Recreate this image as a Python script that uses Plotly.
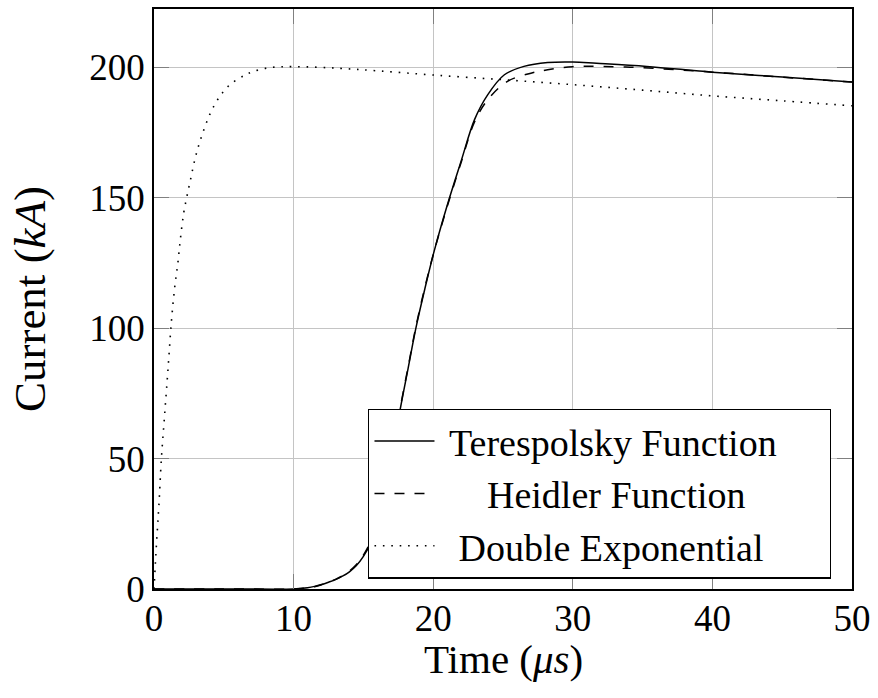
import plotly.graph_objects as go

# ---- data ----
teres_t = [0, 5, 10, 10.5, 11, 11.5, 12, 12.5, 13, 13.5, 14, 14.5, 15, 15.5, 16, 16.5, 17, 17.55,
           18.2, 18.76, 19.4, 20.07, 21, 22, 22.96, 23.9, 25.1, 26.5, 28.2, 30, 31.7, 35.3, 40, 45, 50]
teres_i = [0, 0, 0, 0.2, 0.5, 1.0, 1.7, 2.6, 3.6, 4.9, 6.6, 9.0, 12.5, 17.5, 25, 36, 50, 66.5,
           84.5, 100, 115, 129.5, 147, 164, 179.9, 189.4, 197.1, 200.3, 201.8, 202, 201.5, 200.3, 198.1, 196.2, 194.3]

heid_t = [0, 5, 10, 10.5, 11, 11.5, 12, 12.5, 13, 13.5, 14, 14.5, 15, 15.5, 16, 16.5, 17, 17.55,
          18.2, 18.76, 19.4, 20.07, 21, 22, 22.96, 23.9, 25.3, 27, 28.2, 30, 34.1, 40, 45, 50]
heid_i = [0, 0, 0, 0.2, 0.4, 0.9, 1.6, 2.6, 3.7, 5.1, 6.9, 9.4, 13, 18, 25.5, 36.5, 50.5, 67,
          85, 100.5, 115.5, 129.5, 146.5, 163.5, 179, 187.5, 194.5, 197.7, 199, 200.2, 200, 198.1, 196.2, 194.3]

dexp_t = [0, 0.1, 0.21, 0.35, 0.53, 0.75, 1.0, 1.24, 1.47, 1.71, 1.9, 2.14, 2.38, 2.64, 2.9,
          3.2, 3.59, 4.04, 4.66, 5.44, 6.46, 7.05, 8.24, 10, 13.2, 16, 20, 25, 30, 35, 40, 45, 50]
dexp_i = [0, 10, 20, 32, 50, 66, 84, 102, 115, 125, 134.6, 144.5, 151, 157.5, 164,
          170, 176.3, 182.4, 188.4, 193.3, 196.8, 198.2, 199.8, 200.2, 199.6, 198.6, 197.0, 195.2, 193.3, 191.2, 189.0, 187.1, 185.2]

NB = "\u00a0"
series_names = [NB + "Terespolsky Function" + NB * 5,
                NB * 5 + "Heidler Function",
                NB * 2 + "Double Exponential"]
x_ticks = [0, 10, 20, 30, 40, 50]
y_ticks = [0, 50, 100, 150, 200]
x_title = "Time (<i>μs</i>)"
y_title = "Current (<i>kA</i>)"

FONT = "Liberation Serif"

fig = go.Figure()
fig.add_trace(go.Scatter(x=teres_t, y=teres_i, mode="lines", name=series_names[0],
                         line=dict(color="black", width=1.5, shape="spline", smoothing=1)))
fig.add_trace(go.Scatter(x=heid_t, y=heid_i, mode="lines", name=series_names[1],
                         line=dict(color="black", width=1.5, dash="10px,10px", shape="spline", smoothing=1)))
fig.add_trace(go.Scatter(x=dexp_t, y=dexp_i, mode="lines", name=series_names[2],
                         line=dict(color="black", width=1.6, dash="1.6px,6.8px", shape="spline", smoothing=1)))

axis_common = dict(
    showgrid=True, gridcolor="#c4c4c4", gridwidth=1,
    showline=True, linecolor="black", linewidth=1.5, mirror="ticks",
    ticks="inside", ticklen=15, tickcolor="#808080", tickwidth=1.2,
    zeroline=False,
    tickfont=dict(family=FONT, size=37, color="black"),
)

fig.update_xaxes(range=[0, 50], tickvals=x_ticks, ticklabelstandoff=-4, **axis_common)
fig.update_yaxes(range=[0, 222.3], tickvals=y_ticks, **axis_common,
                 title=dict(text=y_title, font=dict(family=FONT, size=45, color="black"), standoff=30))

fig.add_annotation(text=x_title, xref="paper", yref="paper", x=0.5, y=-0.1209,
                   xanchor="center", yanchor="middle", showarrow=False,
                   font=dict(family=FONT, size=41, color="black"))

fig.update_layout(
    width=878, height=698,
    margin=dict(l=154, r=24, t=7, b=109),
    plot_bgcolor="white", paper_bgcolor="white",
    font=dict(family=FONT, color="black"),
    legend=dict(
        x=0.307, y=0.311, xanchor="left", yanchor="top",
        bgcolor="white", bordercolor="black", borderwidth=1.2,
        font=dict(family=FONT, size=38, color="black"),
        itemwidth=60, tracegroupgap=0,
    ),
)

fig.write_html("out.html", post_script="document.body.style.margin='0';",
               config={"displayModeBar": False})
